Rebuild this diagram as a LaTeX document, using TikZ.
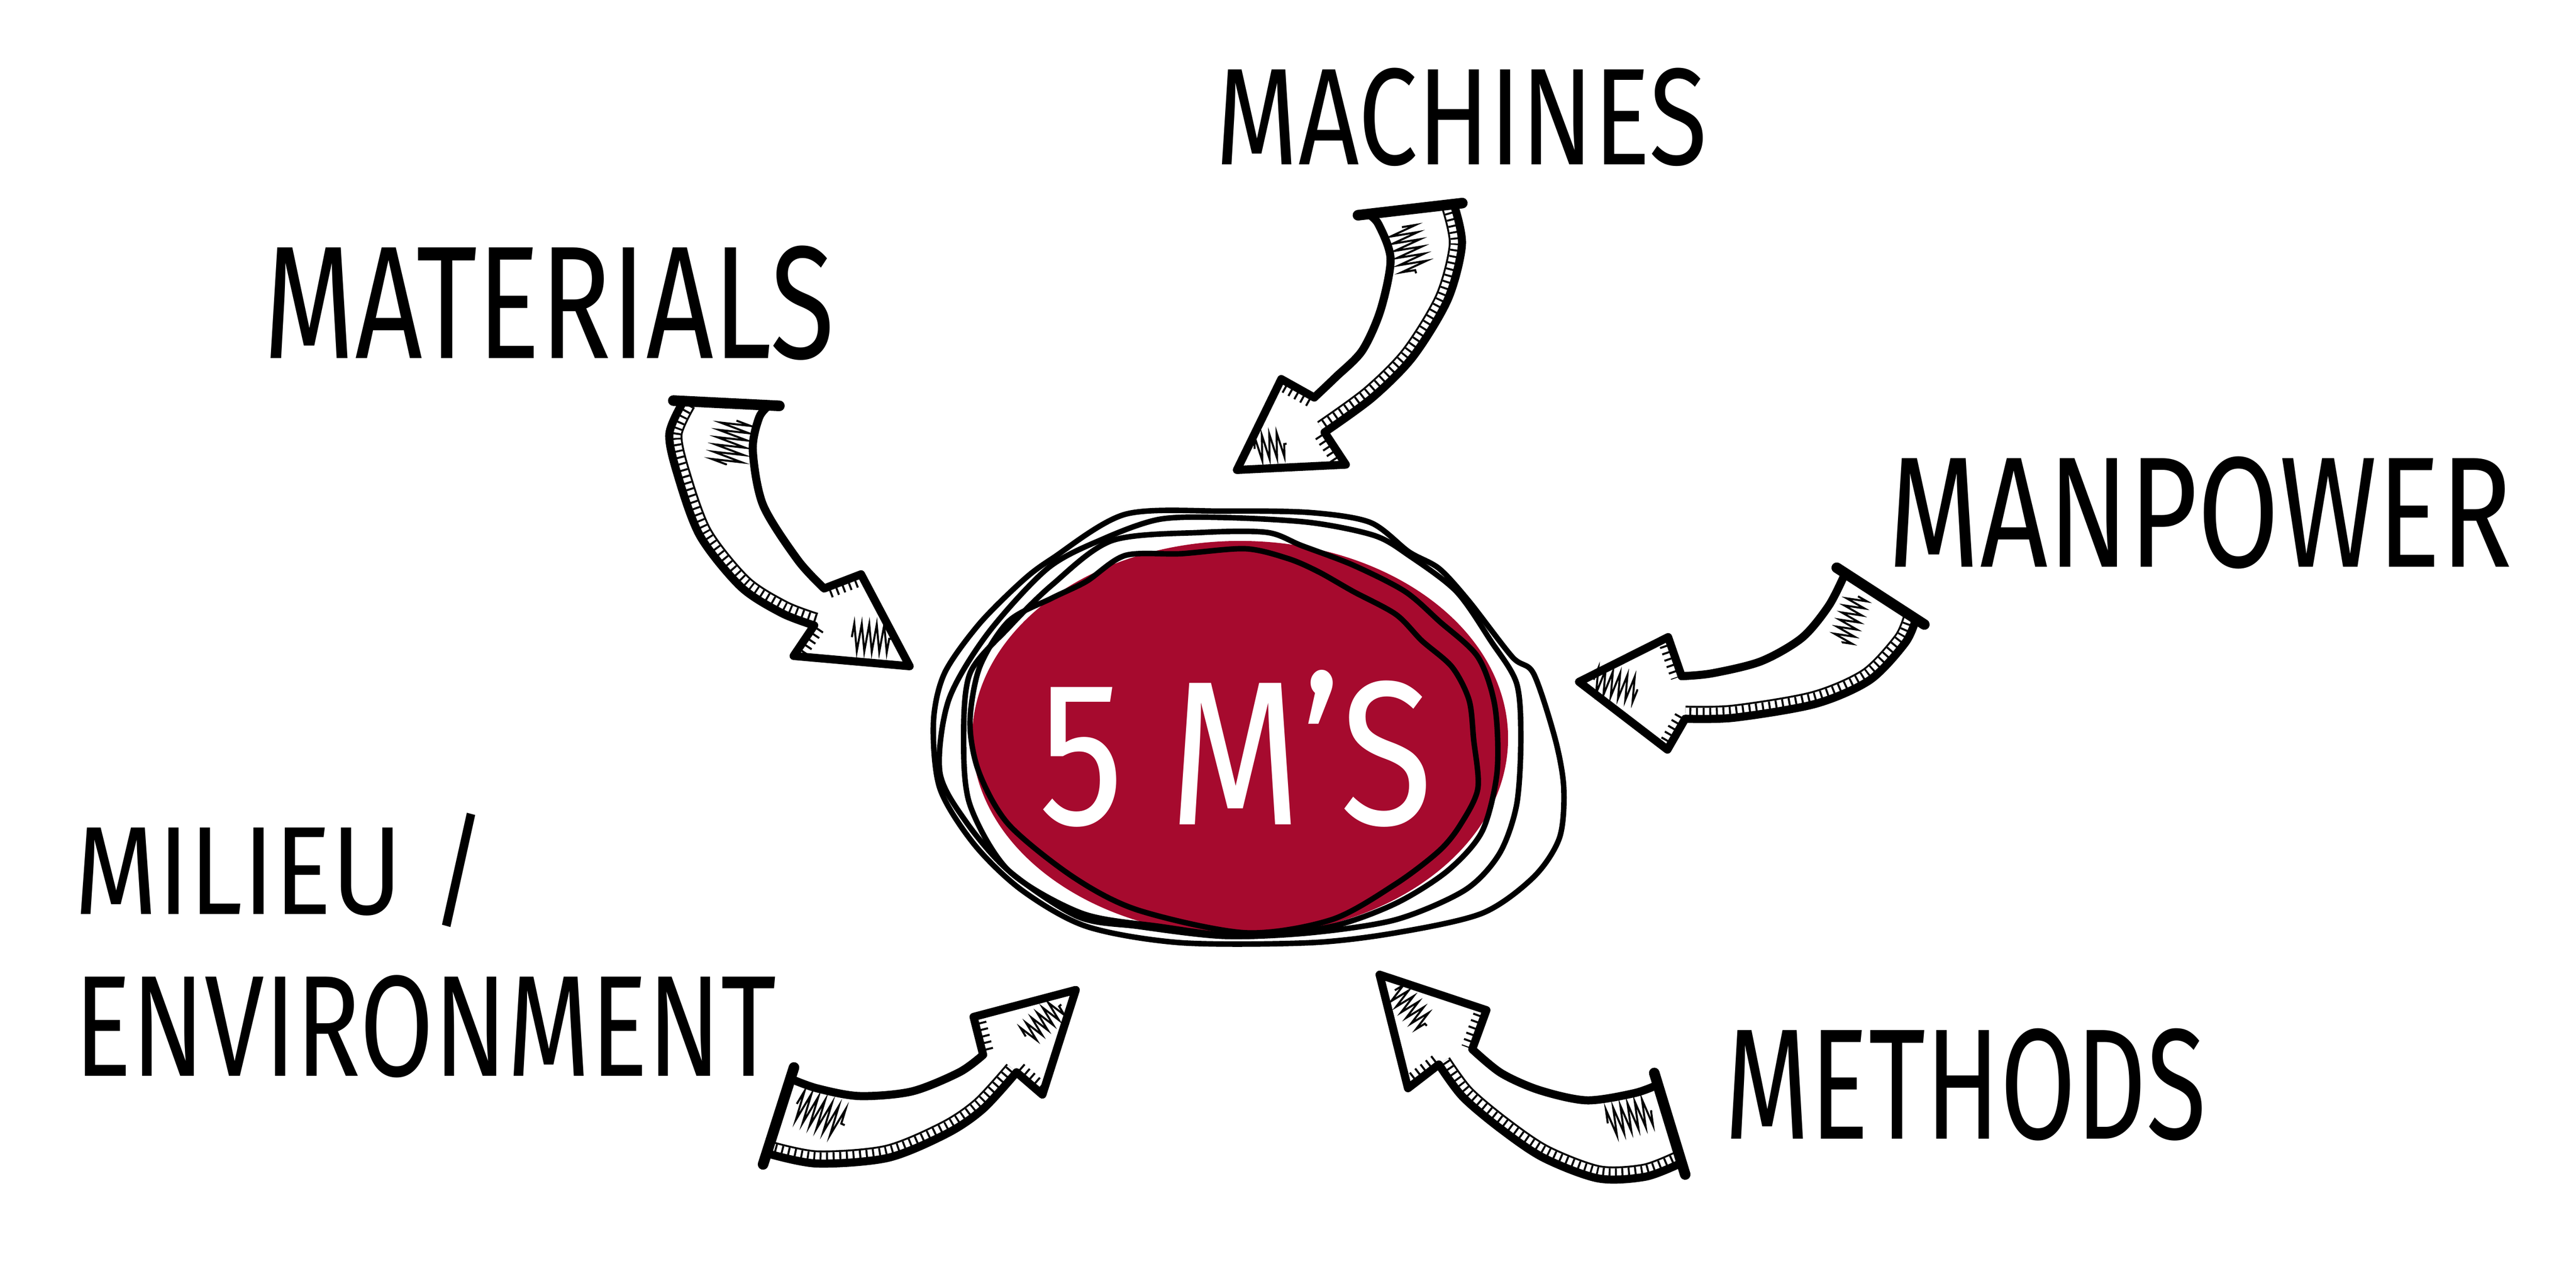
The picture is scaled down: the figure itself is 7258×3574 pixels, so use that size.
\documentclass[tikz,border=0pt]{standalone}
\usepackage{fontspec}
\setmainfont{Fira Sans}
\usetikzlibrary{calc,decorations.pathmorphing}
\definecolor{mred}{RGB}{166,10,46}
\tikzset{
  arrline/.style={draw=black, line width=6.5pt, line join=round},
  edgeline/.style={draw=black, line width=21pt},
  edgegap/.style={draw=white, line width=18pt},
  hatchband/.style={draw=black, line width=18pt, dash pattern=on 1.6pt off 3.8pt},
  scrib/.style={draw=black, line width=1.6pt, decorate, decoration={zigzag, segment length=6pt, amplitude=#1}},
  scrib/.default=10pt,
  tailcap/.style={draw=black, line width=8.5pt, line cap=round},
  ring/.style={draw=black, line width=4.4pt},
  lbl/.style={anchor=base west, inner sep=0pt, text=black},
  centrelbl/.style={anchor=base west, inner sep=0pt, text=white}
}
% arrow outlines (tip, wing, notch, inner edge, tail, outer edge, notch, wing)
\newcommand\arrMach{(3485,1324) -- (3610,1068) -- (3703,1120) -- plot[smooth] coordinates {(3703,1120) (3763,1063) (3838,988) (3890,873) (3918,730) (3884,632) (3855,603)} -- (4096,575) -- plot[smooth] coordinates {(4096,575) (4119,689) (4079,844) (3981,1005) (3867,1120) (3732,1218)} -- (3792,1309) -- cycle}
\newcommand\outMach{(4096,575) (4119,689) (4079,844) (3981,1005) (3867,1120) (3732,1218)}
\newcommand\arrMat{(2563,1877) -- (2426,1618) -- (2322,1658) -- plot[smooth] coordinates {(2322,1658) (2248,1578) (2150,1423) (2121,1268) (2139,1176) (2167,1142)} -- (1926,1130) -- plot[smooth] coordinates {(1926,1130) (1886,1222) (1909,1337) (1972,1509) (2087,1653) (2202,1727) (2294,1762)} -- (2236,1848) -- cycle}
\newcommand\outMat{(1926,1130) (1886,1222) (1909,1337) (1972,1509) (2087,1653) (2202,1727) (2294,1762)}
\newcommand\arrMan{(4449,1921) -- (4700,1795) -- (4738,1905) -- plot[smooth] coordinates {(4738,1905) (4824,1897) (4962,1863) (5077,1797) (5153,1706) (5199,1615)} -- (5398,1744) -- plot[smooth] coordinates {(5398,1744) (5368,1811) (5268,1916) (5115,1983) (4886,2022) (4748,2025)} -- (4698,2112) -- cycle}
\newcommand\outMan{(5398,1744) (5368,1811) (5268,1916) (5115,1983) (4886,2022) (4748,2025)}
\newcommand\arrMet{(3887,2746) -- (4188,2846) -- (4148,2956) -- plot[smooth] coordinates {(4148,2956) (4229,3023) (4336,3071) (4470,3100) (4604,3080) (4671,3056)} -- (4738,3276) -- plot[smooth] coordinates {(4738,3276) (4637,3315) (4503,3320) (4349,3262) (4229,3181) (4121,3090) (4054,2999)} -- (3967,3066) -- cycle}
\newcommand\outMet{(4738,3276) (4637,3315) (4503,3320) (4349,3262) (4229,3181) (4121,3090) (4054,2999)}
\newcommand\arrMil{(3031,2789) -- (2743,2865) -- (2770,2972) -- plot[smooth] coordinates {(2770,2972) (2703,3021) (2569,3075) (2421,3088) (2301,3066) (2227,3039)} -- (2160,3249) -- plot[smooth] coordinates {(2160,3249) (2301,3278) (2502,3262) (2669,3193) (2770,3124) (2864,3021)} -- (2937,3084) -- cycle}
\newcommand\outMil{(2160,3249) (2301,3278) (2502,3262) (2669,3193) (2770,3124) (2864,3021)}
% hatched double edge inside a clipped arrow: #1 = outer edge points
\newcommand\hatchedge[1]{%
  \draw[edgeline] plot[smooth] coordinates {#1};
  \draw[edgegap] plot[smooth] coordinates {#1};
  \draw[hatchband] plot[smooth] coordinates {#1};}
\begin{document}
\begin{tikzpicture}[x=0.01cm, y=-0.01cm]
\fill[white] (0,0) rectangle (7258,3574);
\useasboundingbox (0,0) rectangle (7258,3574);

% ---------- central blob ----------
\fill[mred] (3494,2080) ellipse [x radius=755, y radius=556];
\draw[ring] plot[smooth cycle] coordinates {(3170,1449) (3448,1440) (3691,1444) (3861,1472) (3970,1555) (4055,1602) (4139,1694) (4261,1851) (4321,1898) (4382,2083) (4406,2221) (4394,2360) (4321,2471) (4176,2573) (3933,2628) (3691,2656) (3327,2656) (3061,2610) (2879,2508) (2745,2379) (2648,2221) (2630,2036) (2661,1897) (2758,1759) (2879,1638) (2964,1574)};
\draw[ring] plot[smooth cycle] coordinates {(3267,1463) (3448,1458) (3691,1472) (3873,1509) (3970,1565) (4103,1666) (4200,1805) (4273,1925) (4285,2083) (4273,2268) (4224,2406) (4127,2508) (3933,2591) (3691,2628) (3448,2638) (3206,2610) (3036,2582) (2842,2453) (2721,2314) (2648,2175) (2673,1972) (2782,1786) (2952,1601) (3109,1518)};
\draw[ring] plot[smooth cycle] coordinates {(3133,1523) (3388,1500) (3570,1500) (3667,1537) (3812,1592) (3958,1666) (4055,1750) (4164,1851) (4212,1990) (4218,2175) (4176,2342) (4079,2453) (3933,2545) (3752,2610) (3509,2638) (3267,2610) (3048,2573) (2842,2453) (2733,2268) (2715,2083) (2733,1897) (2842,1768) (2964,1648)};
\draw[ring] plot[smooth cycle] coordinates {(3061,1638) (3170,1565) (3327,1560) (3509,1546) (3630,1574) (3715,1611) (3812,1666) (3933,1731) (4006,1805) (4091,1879) (4139,1972) (4152,2083) (4164,2221) (4115,2323) (4055,2397) (3933,2490) (3752,2591) (3509,2628) (3206,2564) (3024,2471) (2842,2323) (2758,2175) (2733,2036) (2760,1880) (2842,1750) (2964,1685)};
\node[centrelbl] (centre) at (2927,2323) {\resizebox{11.09cm}{4.35cm}{5 M’S}};

% ---------- arrows ----------
% Machines
\fill[white] \arrMach;
\begin{scope}
  \clip \arrMach;
  \hatchedge{\outMach}
  \draw[hatchband] (3610,1068) -- (3703,1120);
  \draw[hatchband] (3732,1218) -- (3792,1309);
\end{scope}
\draw[arrline] \arrMach;
\coordinate (machA) at (3855,603); \coordinate (machB) at (4096,575);
\draw[tailcap] ($(machA)!-0.12!(machB)$) -- ($(machB)!-0.1!(machA)$);
\draw[scrib=11pt] (3950,640) -- (3990,770);
\draw[scrib=10pt] (3535,1265) -- (3625,1250);

% Materials
\fill[white] \arrMat;
\begin{scope}
  \clip \arrMat;
  \hatchedge{\outMat}
  \draw[hatchband] (2426,1618) -- (2322,1658);
  \draw[hatchband] (2294,1762) -- (2236,1848);
\end{scope}
\draw[arrline] \arrMat;
\coordinate (matA) at (1926,1130); \coordinate (matB) at (2167,1142);
\draw[tailcap] ($(matA)!-0.12!(matB)$) -- ($(matB)!-0.12!(matA)$);
\draw[scrib=12pt] (2075,1185) -- (2045,1310);
\draw[scrib=11pt] (2400,1795) -- (2510,1800);

% Manpower
\fill[white] \arrMan;
\begin{scope}
  \clip \arrMan;
  \hatchedge{\outMan}
  \draw[hatchband] (4700,1795) -- (4738,1905);
  \draw[hatchband] (4748,2025) -- (4698,2112);
\end{scope}
\draw[arrline] \arrMan;
\coordinate (manA) at (5199,1615); \coordinate (manB) at (5398,1744);
\draw[tailcap] ($(manA)!-0.12!(manB)$) -- ($(manB)!-0.12!(manA)$);
\draw[scrib=8pt] (5235,1680) -- (5190,1810);
\draw[scrib=10pt] (4490,1915) -- (4615,1945);

% Methods
\fill[white] \arrMet;
\begin{scope}
  \clip \arrMet;
  \hatchedge{\outMet}
  \draw[hatchband] (4188,2846) -- (4148,2956);
  \draw[hatchband] (4054,2999) -- (3967,3066);
\end{scope}
\draw[arrline] \arrMet;
\coordinate (metA) at (4671,3056); \coordinate (metB) at (4738,3276);
\draw[tailcap] ($(metA)!-0.15!(metB)$) -- ($(metB)!-0.15!(metA)$);
\draw[scrib=11pt] (4530,3165) -- (4655,3130);
\draw[scrib=8pt] (3930,2790) -- (4020,2890);

% Milieu / Environment
\fill[white] \arrMil;
\begin{scope}
  \clip \arrMil;
  \hatchedge{\outMil}
  \draw[hatchband] (2743,2865) -- (2770,2972);
  \draw[hatchband] (2864,3021) -- (2937,3084);
\end{scope}
\draw[arrline] \arrMil;
\coordinate (milA) at (2227,3039); \coordinate (milB) at (2160,3249);
\draw[tailcap] ($(milA)!-0.15!(milB)$) -- ($(milB)!-0.15!(milA)$);
\draw[scrib=12pt] (2245,3110) -- (2380,3170);
\draw[scrib=8pt] (2890,2920) -- (2990,2830);

% ---------- labels ----------
\node[lbl] (machines) at (3425,464) {\resizebox{13.83cm}{2.72cm}{MACHINES}};
\node[lbl] (materials) at (742,1010) {\resizebox{16.07cm}{3.17cm}{MATERIALS}};
\node[lbl] (manpower) at (5319,1598) {\resizebox{17.57cm}{3.11cm}{MANPOWER}};
\node[lbl] (milieu) at (209,2576) {\resizebox{11.61cm}{2.85cm}{MILIEU /}};
\node[lbl] (environment) at (209,3031) {\resizebox{19.75cm}{2.84cm}{ENVIRONMENT}};
\node[lbl] (methods) at (4859,3209) {\resizebox{13.56cm}{3.11cm}{METHODS}};
\end{tikzpicture}
\end{document}
